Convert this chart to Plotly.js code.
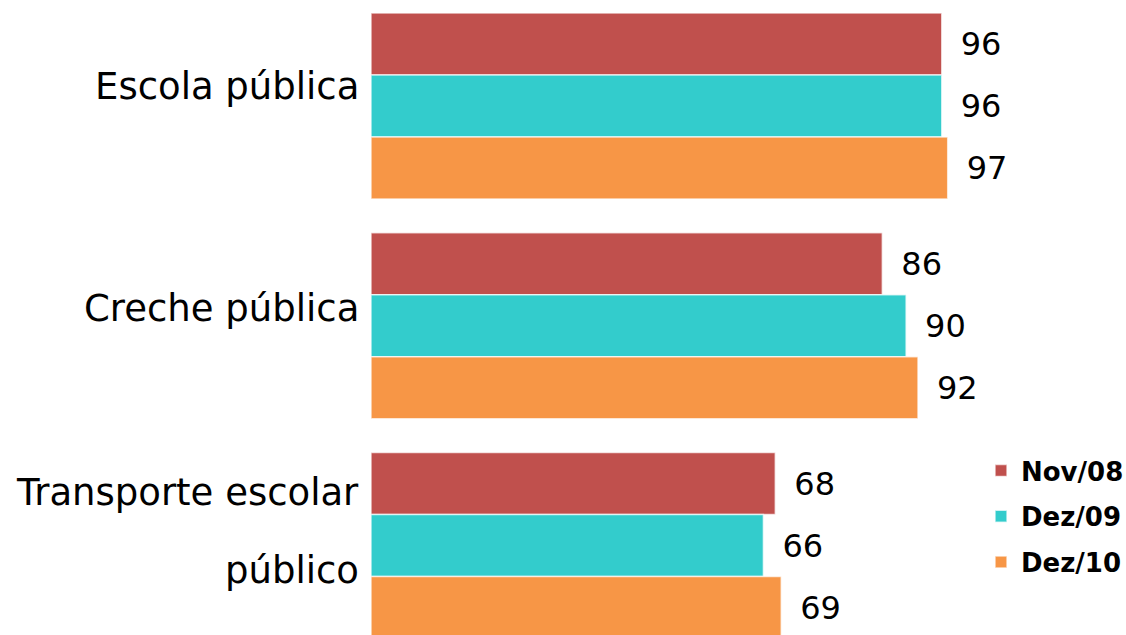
<!DOCTYPE html>
<html>
<head>
<meta charset="utf-8">
<script src="https://cdn.plot.ly/plotly-3.0.1.min.js"></script>
<style>html,body{margin:0;padding:0;background:#fff;}#chart{width:1126px;height:635px;}</style>
</head>
<body>
<div id="chart"></div>
<script>
// ---- data ----
const categories = ['Escola pública', 'Creche pública', 'Transporte escolar público'];
const categoryLabelLines = [['Escola pública'], ['Creche pública'], ['Transporte escolar', 'público']];
const seriesNames = ['Nov/08', 'Dez/09', 'Dez/10'];
const nov08 = [96, 86, 68];
const dez09 = [96, 90, 66];
const dez10 = [97, 92, 69];

// ---- styles ----
const colors = ['#C0504D', '#33CCCC', '#F79646'];
const seriesValues = [nov08, dez09, dez10];
const FONT = 'DejaVu Sans, Verdana, sans-serif';
const labelShifts = [[19], [17], [53, -25]];

const traces = seriesValues.map((vals, i) => ({
  type: 'bar',
  orientation: 'h',
  name: seriesNames[i],
  legendgroup: 'g' + i,
  y: categories,
  x: vals,
  text: vals.map(v => '\u2002' + v),
  textposition: 'outside',
  cliponaxis: false,
  textfont: {family: FONT, size: 32, color: '#000'},
  marker: {color: colors[i], line: {color: 'rgba(255,255,255,0.7)', width: 1.5}},
  hoverinfo: 'x+name'
}));

const annotations = [];
categories.forEach((c, ci) => {
  categoryLabelLines[ci].forEach((line, li) => {
    annotations.push({
      xref: 'paper', yref: 'y', x: 0, y: c,
      xanchor: 'right', yanchor: 'middle',
      xshift: -10, yshift: labelShifts[ci][li],
      text: line, showarrow: false,
      font: {family: FONT, size: 37, color: '#000'}
    });
  });
});

const layout = {
  width: 1126, height: 635,
  margin: {l: 371, r: 101, t: 0, b: 0, pad: 0, autoexpand: false},
  paper_bgcolor: '#fff', plot_bgcolor: '#fff',
  barmode: 'group', bargap: 0.154, bargroupgap: 0,
  font: {family: FONT, color: '#000'},
  xaxis: {range: [0, 110], visible: false, fixedrange: true},
  yaxis: {type: 'category', categoryorder: 'array', categoryarray: categories,
          range: [2.407, -0.482], showticklabels: false, showgrid: false,
          zeroline: false, showline: false, ticks: '', fixedrange: true},
  showlegend: true,
  legend: {xref: 'container', yref: 'container', x: 981/1126, y: 1 - 447/635,
           xanchor: 'left', yanchor: 'top', traceorder: 'grouped', tracegroupgap: 9,
           font: {family: FONT, size: 26, color: '#000', weight: 'bold'},
           bgcolor: 'rgba(0,0,0,0)', borderwidth: 0},
  annotations: annotations
};

Plotly.newPlot('chart', traces, layout, {displayModeBar: false, staticPlot: true});
</script>
</body>
</html>
